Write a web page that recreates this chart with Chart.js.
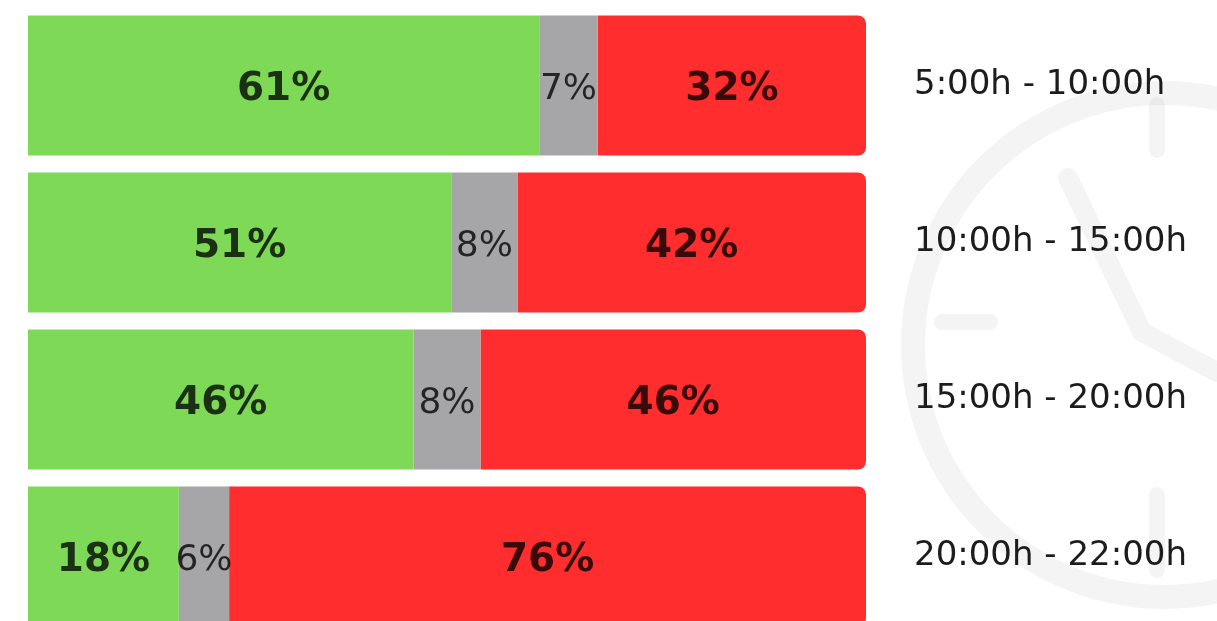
<!DOCTYPE html>
<html>
<head>
<meta charset="utf-8">
<script src="https://cdn.jsdelivr.net/npm/chart.js@4/dist/chart.umd.min.js"></script>
<style>
  html, body { margin: 0; padding: 0; background: #fff; overflow: hidden; }
  #wrap { position: relative; width: 1217px; height: 635px; }
</style>
</head>
<body>
<div id="wrap"><canvas id="myChart"></canvas></div>
<script>
// Time slots and the three shares per slot
const timeSlots = ['5:00h - 10:00h', '10:00h - 15:00h', '15:00h - 20:00h', '20:00h - 22:00h'];
const greenShare = [61, 51, 46, 18];
const grayShare = [7, 8, 8, 6];
const redShare = [32, 42, 46, 76];

// Each row is drawn as a full 100% bar (the second row adds up to 101)
const rowTotals = timeSlots.map((_, i) => greenShare[i] + grayShare[i] + redShare[i]);
const asPercent = arr => arr.map((v, i) => v * 100 / rowTotals[i]);

// Faint clock in the background
const clockBackground = {
  id: 'clockBackground',
  beforeDraw(chart) {
    const c = chart.ctx;
    c.save();
    c.strokeStyle = 'rgba(0, 0, 0, 0.045)';
    c.lineCap = 'round';
    c.lineWidth = 24;
    c.beginPath();
    c.arc(1165, 345, 252, 0, Math.PI * 2);
    c.stroke();
    c.lineWidth = 16;
    c.beginPath(); c.moveTo(1157, 105); c.lineTo(1157, 150); c.stroke();  // 12
    c.beginPath(); c.moveTo(1157, 495); c.lineTo(1157, 570); c.stroke();  // 6
    c.beginPath(); c.moveTo(942, 322); c.lineTo(990, 322); c.stroke();    // 9
    c.lineWidth = 20;
    c.beginPath(); c.moveTo(1068, 178); c.lineTo(1142, 332); c.lineTo(1217, 372); c.stroke(); // hands
    c.restore();
  }
};

// Percent labels inside each segment
const segmentLabels = {
  id: 'segmentLabels',
  afterDatasetsDraw(chart) {
    const c = chart.ctx;
    c.save();
    c.textAlign = 'center';
    c.textBaseline = 'middle';
    chart.data.datasets.forEach((ds, di) => {
      const meta = chart.getDatasetMeta(di);
      c.font = ds.labelFont;
      c.fillStyle = 'rgba(0, 0, 0, 0.78)';
      meta.data.forEach((bar, i) => {
        const p = bar.getProps(['x', 'y', 'base'], true);
        c.fillText(ds.shownValues[i] + '%', (p.x + p.base) / 2, p.y + 4);
      });
    });
    c.restore();
  }
};

const ctx = document.getElementById('myChart').getContext('2d');
const myChart = new Chart(ctx, {
  type: 'bar',
  data: {
    labels: timeSlots,
    datasets: [
      {
        data: asPercent(greenShare),
        shownValues: greenShare,
        backgroundColor: '#7ed957',
        labelFont: 'bold 39px "DejaVu Sans"'
      },
      {
        data: asPercent(grayShare),
        shownValues: grayShare,
        backgroundColor: '#a6a6a8',
        labelFont: '36px "DejaVu Sans"'
      },
      {
        data: asPercent(redShare),
        shownValues: redShare,
        backgroundColor: '#ff2d2d',
        borderRadius: 8,
        labelFont: 'bold 39px "DejaVu Sans"'
      }
    ]
  },
  options: {
    indexAxis: 'y',
    responsive: true,
    maintainAspectRatio: false,
    animation: false,
    layout: { padding: { left: 28, top: 7, right: 0, bottom: 0 } },
    datasets: {
      bar: { barPercentage: 1, categoryPercentage: 0.892 }
    },
    scales: {
      x: {
        stacked: true,
        min: 0,
        max: 100,
        display: false
      },
      y: {
        stacked: true,
        position: 'right',
        border: { display: false },
        grid: { display: false, drawTicks: false },
        afterFit(scale) {
          scale.width = 351;
          // the tick padding is only meant to push labels sideways
          scale.paddingTop = 0;
          scale.paddingBottom = 0;
        },
        ticks: {
          crossAlign: 'near',
          padding: 48,
          color: '#1c1c1c',
          font: { family: 'DejaVu Sans', size: 34 }
        }
      }
    },
    plugins: {
      legend: { display: false },
      tooltip: { enabled: false }
    }
  },
  plugins: [clockBackground, segmentLabels]
});
</script>
</body>
</html>
